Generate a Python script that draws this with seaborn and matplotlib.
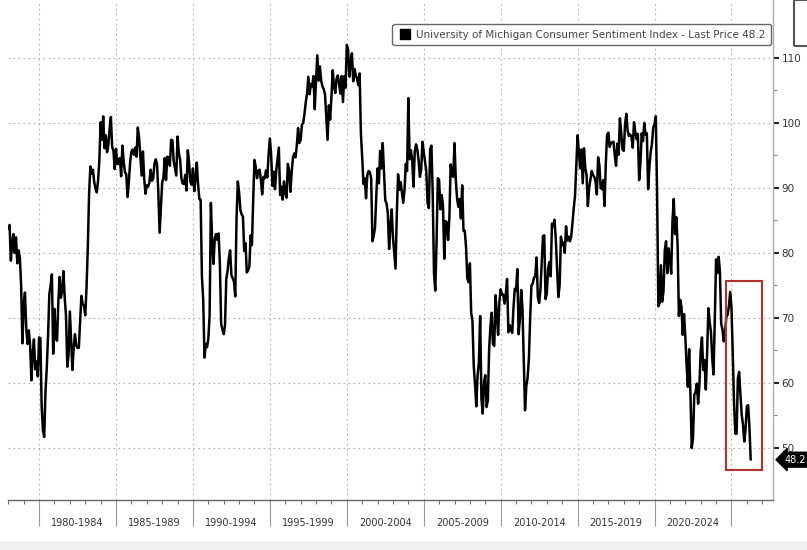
import numpy as np
import pandas as pd
import matplotlib
matplotlib.use("Agg")
import matplotlib.pyplot as plt
import seaborn as sns
from matplotlib.patches import Rectangle
from matplotlib.lines import Line2D
import matplotlib.transforms as mtransforms

# monthly readings (Jan 1978 onward)
s1978_1989 = [
    83.7, 84.3, 78.8, 81.6, 82.9, 80.0, 82.4, 78.4, 80.4, 79.3, 75.0, 66.1,
    72.1, 73.9, 68.4, 66.0, 68.1, 65.8, 60.4, 64.5, 66.7, 62.1, 63.3, 61.0,
    67.0, 66.9, 56.5, 52.7, 51.7, 58.7, 62.3, 67.3, 73.7, 75.0, 76.7, 64.5,
    71.4, 66.9, 66.5, 72.4, 76.3, 73.1, 74.1, 77.2, 73.1, 70.3, 62.5, 64.3,
    71.0, 66.5, 62.0, 65.5, 67.5, 65.7, 65.4, 65.4, 69.3, 73.4, 72.1, 71.9,
    70.4, 74.6, 80.8, 89.1, 93.3, 92.2, 92.8, 90.9, 89.9, 89.3, 91.1, 94.2,
    100.1, 97.4, 101.0, 96.1, 98.1, 95.5, 96.6, 99.1, 100.9, 96.3, 95.7, 92.9,
    96.0, 93.7, 93.7, 94.6, 91.8, 96.5, 94.0, 92.4, 92.1, 88.6, 90.9, 93.9,
    95.6, 95.9, 95.1, 96.2, 94.8, 99.3, 97.7, 94.9, 91.9, 95.6, 91.4, 89.1,
    90.4, 90.2, 90.8, 92.8, 91.1, 91.5, 93.7, 94.4, 93.6, 89.3, 83.1, 86.8,
    90.8, 91.6, 94.6, 91.2, 94.8, 94.7, 93.4, 97.4, 97.3, 94.1, 93.0, 91.9,
    97.9, 95.4, 94.3, 91.5, 90.7, 90.6, 92.0, 89.6, 95.8, 93.9, 90.9, 90.5,
]
s1990_1999 = [
    93.0, 89.5, 91.3, 93.9, 90.6, 88.3, 88.2, 76.4, 72.8, 63.9, 66.0, 65.5,
    66.8, 70.4, 87.7, 81.8, 78.3, 82.1, 82.9, 82.0, 83.0, 78.3, 69.1, 68.2,
    67.5, 68.8, 76.0, 77.2, 79.2, 80.4, 76.6, 76.1, 75.6, 73.3, 85.3, 91.0,
    89.3, 86.6, 85.9, 85.6, 80.3, 81.5, 77.0, 77.3, 77.9, 82.7, 81.2, 88.2,
    94.3, 93.2, 91.5, 92.6, 92.8, 91.2, 89.0, 91.7, 91.5, 92.7, 91.6, 95.1,
    97.6, 95.1, 90.3, 92.5, 89.8, 92.7, 94.4, 96.2, 88.9, 90.2, 88.2, 91.0,
    89.3, 88.5, 93.7, 92.7, 89.4, 92.4, 94.7, 95.3, 94.7, 96.5, 99.2, 96.9,
    97.4, 99.7, 100.0, 101.4, 103.2, 104.5, 107.1, 104.4, 106.0, 105.6, 107.2, 102.1,
    106.6, 110.4, 106.5, 108.7, 106.5, 105.6, 105.2, 104.4, 100.9, 97.4, 102.7, 100.5,
    103.9, 108.1, 105.7, 104.6, 106.8, 107.3, 106.0, 104.5, 107.2, 103.2, 107.2, 105.4,
]
s2000_2009 = [
    112.0, 111.3, 107.1, 109.2, 110.7, 106.4, 108.3, 107.3, 106.8, 105.8, 107.6, 98.4,
    94.7, 90.6, 91.5, 88.4, 92.0, 92.6, 92.4, 91.5, 81.8, 82.7, 83.9, 88.8,
    93.0, 90.7, 95.7, 93.0, 96.9, 92.4, 88.1, 87.6, 86.1, 80.6, 84.2, 86.7,
    82.4, 79.9, 77.6, 86.0, 92.1, 89.7, 90.9, 89.3, 87.7, 89.6, 93.7, 92.6,
    103.8, 94.4, 95.8, 94.2, 90.2, 95.6, 96.7, 95.9, 94.2, 91.7, 92.8, 97.1,
    95.5, 94.1, 92.6, 87.7, 86.9, 96.0, 96.5, 89.1, 76.9, 74.2, 81.6, 91.5,
    91.2, 86.7, 88.9, 87.4, 79.1, 84.9, 84.7, 82.0, 85.4, 93.6, 92.1, 91.7,
    96.9, 91.3, 88.4, 87.1, 88.3, 85.3, 90.4, 83.4, 83.4, 80.9, 76.1, 75.5,
    78.4, 70.8, 69.5, 62.6, 59.8, 56.4, 61.2, 63.0, 70.3, 57.6, 55.3, 60.1,
    61.2, 56.3, 57.3, 65.1, 68.7, 70.8, 66.0, 65.7, 73.5, 70.6, 67.4, 72.5,
]
s2010_2019 = [
    74.4, 73.6, 73.6, 72.2, 73.6, 76.0, 67.8, 68.9, 68.2, 67.7, 71.6, 74.5,
    74.2, 77.5, 67.5, 69.8, 74.3, 71.5, 63.7, 55.8, 59.5, 60.8, 63.7, 69.9,
    75.0, 75.3, 76.2, 76.4, 79.3, 73.2, 72.3, 74.3, 78.3, 82.6, 82.7, 72.9,
    73.8, 77.6, 78.6, 76.4, 84.5, 84.1, 85.1, 82.1, 77.5, 73.2, 75.1, 82.5,
    81.2, 81.6, 80.0, 84.1, 81.9, 82.5, 81.8, 82.5, 84.6, 86.9, 88.8, 93.6,
    98.1, 95.4, 93.0, 95.9, 90.7, 96.1, 93.1, 91.9, 87.2, 90.0, 91.3, 92.6,
    92.0, 91.7, 91.0, 89.0, 94.7, 93.5, 90.0, 89.8, 91.2, 87.2, 93.8, 98.2,
    98.5, 96.3, 96.9, 97.0, 97.1, 95.0, 93.4, 96.8, 95.1, 100.7, 98.5, 95.9,
    95.7, 99.7, 101.4, 98.8, 98.0, 98.2, 97.9, 96.2, 100.1, 98.6, 97.5, 98.3,
    91.2, 93.8, 98.4, 97.2, 100.0, 98.2, 98.4, 89.8, 93.2, 95.5, 96.8, 99.3,
]
s2020_2026 = [
    99.8, 101.0, 89.1, 71.8, 72.3, 78.1, 72.5, 74.1, 80.4, 81.8, 76.9, 80.7,
    79.0, 76.8, 84.9, 88.3, 82.9, 85.5, 81.2, 70.3, 72.8, 71.7, 67.4, 70.6,
    67.2, 62.8, 59.4, 65.2, 58.4, 50.0, 51.5, 58.2, 58.6, 59.9, 56.8, 59.7,
    64.9, 67.0, 62.0, 63.5, 59.0, 64.4, 71.5, 69.4, 67.9, 63.8, 61.3, 69.7,
    79.0, 76.9, 79.4, 77.2, 69.1, 68.2, 66.4, 67.9, 70.1, 70.5, 71.8, 74.0,
    71.7, 64.7, 57.0, 52.2, 52.2, 60.7, 61.7, 58.2, 55.1, 53.6, 51.0, 52.9,
    56.4, 56.6, 53.3, 48.2,
]

period_labels = ["1980-1984", "1985-1989", "1990-1994", "1995-1999", "2000-2004",
                 "2005-2009", "2010-2014", "2015-2019", "2020-2024"]
legend_text = "University of Michigan Consumer Sentiment Index - Last Price 48.2"
last_price = 48.2

values = s1978_1989 + s1990_1999 + s2000_2009 + s2010_2019 + s2020_2026
dates = pd.date_range("1978-01-01", periods=len(values), freq="MS")
df = pd.DataFrame({"t": dates.year + (dates.month - 1) / 12.0, "sentiment": values})

sns.set_theme(style="white")
plt.rcParams["font.family"] = ["DejaVu Sans"]

fig = plt.figure(figsize=(8.07, 5.5), dpi=100)
ax = fig.add_axes([8 / 807, 1 - 500 / 550, (773 - 8) / 807, 500 / 550])

sns.lineplot(data=df, x="t", y="sentiment", color="black", linewidth=1.8, ax=ax)

ax.set_xlim(1977.98, 2027.7)
ax.set_ylim(42.0, 118.9)
ax.set_xlabel("")
ax.set_ylabel("")

# y axis on the right
ax.yaxis.tick_right()
ax.set_yticks(np.arange(50, 111, 10))
ax.set_yticks(np.arange(55, 111, 10), minor=True)
ax.tick_params(axis="y", which="major", direction="out", length=4, width=1.5,
               color="#222", labelsize=7.5, labelcolor="#333", pad=2, right=True)
ax.tick_params(axis="y", which="minor", direction="out", length=3, width=0.8,
               color="#888", right=True)

# x axis: 5-year separators and yearly ticks
ax.set_xticks(np.arange(1980, 2026, 5))
ax.set_xticks(np.arange(1978, 2028, 1), minor=True)
ax.set_xticklabels([])
ax.tick_params(axis="x", which="major", direction="out", length=19, width=0.8,
               color="#999", bottom=True)
ax.tick_params(axis="x", which="minor", direction="out", length=3, width=0.8,
               color="#777", bottom=True)

ax.grid(True, which="major", linestyle=(0, (1.5, 3)), color="#b0b0b0", linewidth=0.8)

for s in ["left", "top"]:
    ax.spines[s].set_visible(False)
ax.spines["right"].set_color("#aaa")
ax.spines["bottom"].set_color("#666")
ax.spines["right"].set_linewidth(1.0)
ax.spines["bottom"].set_linewidth(1.0)

trans = mtransforms.blended_transform_factory(ax.transData, ax.transAxes)
for i, lab in enumerate(period_labels):
    ax.text(1980 + 5 * i + 2.5, -0.046, lab, transform=trans, ha="center", va="center",
            fontsize=7, color="#333", clip_on=False)

# highlight box on the latest readings
ax.add_patch(Rectangle((2024.64, 46.6), 2.34, 29.1, fill=False,
                       edgecolor="#b5312b", linewidth=1.5, zorder=5))

# legend
handle = Line2D([], [], marker="s", color="black", linestyle="", markersize=7)
leg = ax.legend([handle], [legend_text], loc="upper right",
                bbox_to_anchor=(771 / 807, 1 - 24 / 550), bbox_transform=fig.transFigure,
                fontsize=7.5, frameon=True, fancybox=True, handlelength=1.4,
                handletextpad=0.3, borderpad=0.55, borderaxespad=0, framealpha=1)
leg.get_frame().set_edgecolor("#666")
leg.get_frame().set_linewidth(1.0)
for t in leg.get_texts():
    t.set_color("#444")

# last price tag
ytrans = mtransforms.blended_transform_factory(ax.transAxes, ax.transData)
ax.annotate(f"{last_price}", xy=(1.0, last_price), xycoords=ytrans,
            xytext=(8, 0), textcoords="offset points", ha="left", va="center",
            fontsize=7, color="white", annotation_clip=False,
            bbox=dict(boxstyle="larrow,pad=0.25", fc="black", ec="black"))

# stray UI frame at top right and grey strip at bottom
fig.patches.append(Rectangle((794 / 807, 1 - 46 / 550), 0.05, 46 / 550,
                             transform=fig.transFigure, fill=False, edgecolor="#555",
                             linewidth=1.5, figure=fig))
fig.patches.append(Rectangle((0, 0), 1, 9 / 550, transform=fig.transFigure,
                             facecolor="#f1f1f1", edgecolor="none", figure=fig))

fig.savefig("out.png", dpi=100)
